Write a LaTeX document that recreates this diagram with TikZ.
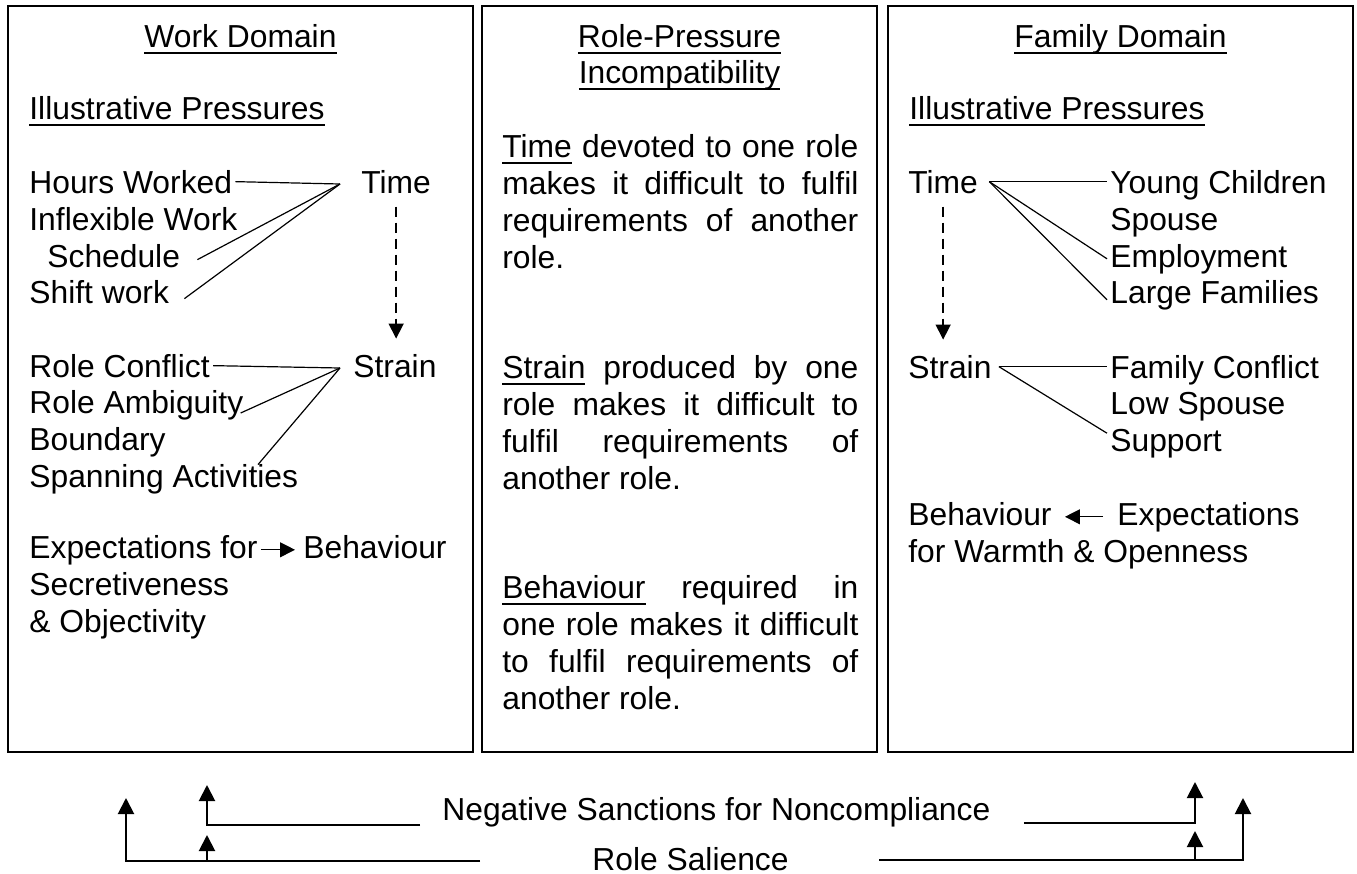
\documentclass[tikz,border=0pt]{standalone}
\usepackage{fontspec}
\setmainfont{Liberation Sans}
\usetikzlibrary{arrows.meta}
\newcommand\lblfont{\fontsize{15.9pt}{18.5pt}\selectfont}
\newcommand\parafont{\lblfont\tolerance=10000\relax\hbadness=10000\relax\hyphenpenalty=10000\relax}
\newsavebox\ulbox
\newcommand\uln[1]{\sbox\ulbox{#1}\rlap{\rule[-3.5pt]{\wd\ulbox}{1pt}}\usebox\ulbox}
\tikzset{
	frame/.style={draw,line width=1pt},
	lbl/.style={anchor=base west,inner sep=1.5pt,font=\lblfont},
	hdr/.style={anchor=base,inner sep=1.5pt,font=\lblfont},
	para/.style={anchor=base west,inner sep=1.5pt,text width=178pt,align=justify,font=\parafont},
	link/.style={line width=0.6pt},
	flow/.style={line width=0.6pt,-{Triangle[length=7.5pt,width=7.5pt]}},
	dflow/.style={line width=0.8pt,dash pattern=on 5pt off 3pt,-{Triangle[length=7.5pt,width=7.5pt]},shorten <=5pt,shorten >=6pt},
	lift/.style={line width=1pt,-{Triangle[length=8pt,width=8pt]}},
}
\begin{document}
\begin{tikzpicture}[x=0.5pt,y=-0.5pt]
\useasboundingbox (0,0) rectangle (1357,874);
% BOXES
\draw[frame] (8,6) rectangle (473,752);
\draw[frame] (482,6) rectangle (877,752);
\draw[frame] (888,6) rectangle (1353,752);
% WORK DOMAIN
\node[hdr] (wd) at (240.5,47) {\uln{Work Domain}};
\node[lbl] (wip) at (26,119) {\uln{Illustrative Pressures}};
\node[lbl] (hw) at (26,193) {Hours Worked};
\node[lbl] (ifw) at (26,230) {Inflexible Work};
\node[lbl] (sch) at (44,267) {Schedule};
\node[lbl] (shw) at (26,303) {Shift work};
\node[lbl] (tw) at (358,193) {Time};
\node[lbl] (rc) at (26,377) {Role Conflict};
\node[lbl] (ra) at (26,413) {Role Ambiguity};
\node[lbl] (bd) at (26,450) {Boundary};
\node[lbl] (sa) at (26,487) {Spanning Activities};
\node[lbl] (stw) at (350,377) {Strain};
\node[lbl] (ef) at (26,558) {Expectations for};
\node[lbl] (bw) at (300,558) {Behaviour};
\node[lbl] (sec) at (26,595) {Secretiveness};
\node[lbl] (obj) at (26,632) {\& Objectivity};
\coordinate (tjn) at (340,184);
\coordinate (sjn) at (340,368);
\draw[link] (hw.east) -- (tjn);
\draw[link] ([xshift=7pt,yshift=-2pt]sch.east) -- (tjn);
\draw[link] ([xshift=6pt,yshift=-3.5pt]shw.east) -- (tjn);
\draw[link] (rc.east) -- (sjn);
\draw[link] ([xshift=-3pt]ra.base east) -- (sjn);
\draw[link] ([xshift=116pt,yshift=-2pt]sa.north west) -- (sjn);
\draw[dflow] (tw.south) -- (tw.south |- stw.north);
\draw[flow,shorten >=2.5pt] (ef.east) -- (ef.east -| bw.west);
% ROLE-PRESSURE INCOMPATIBILITY
\node[hdr] (rp1) at (679.5,47) {\uln{Role-Pressure}};
\node[hdr] (rp2) at (679.5,83) {\uln{Incompatibility}};
\node[para] (pt) at (499,157) {\uln{Time} devoted to one role\linebreak makes it difficult to fulfil\linebreak requirements of another\linebreak role.};
\node[para] (ps) at (499,378) {\uln{Strain} produced by one\linebreak role makes it difficult to\linebreak fulfil requirements of\linebreak another role.};
\node[para] (pb) at (499,598) {\uln{Behaviour} required in\linebreak one role makes it difficult\linebreak to fulfil requirements of\linebreak another role.};
% FAMILY DOMAIN
\node[hdr] (fd) at (1120.5,47) {\uln{Family Domain}};
\node[lbl] (fip) at (906,119) {\uln{Illustrative Pressures}};
\node[lbl] (tf) at (905,193) {Time};
\node[lbl] (yc) at (1107,193) {Young Children};
\node[lbl] (spo) at (1107,230) {Spouse};
\node[lbl] (emp) at (1107,267) {Employment};
\node[lbl] (lfm) at (1107,303) {Large Families};
\node[lbl] (sf) at (905,378) {Strain};
\node[lbl] (fc) at (1107,378) {Family Conflict};
\node[lbl] (lsp) at (1107,414) {Low Spouse};
\node[lbl] (sup) at (1107,451) {Support};
\node[lbl] (bf) at (905,525) {Behaviour};
\node[lbl] (exf) at (1114,525) {Expectations};
\node[lbl] (wo) at (905,562) {for Warmth \& Openness};
\coordinate (tfo) at ([xshift=4pt]tf.east);
\coordinate (sfo) at ([xshift=2pt]sf.east);
\draw[link] (tfo) -- (tfo -| yc.west);
\draw[link] (tfo) -- (emp.west);
\draw[link] (tfo) -- ([yshift=-2.5pt]lfm.west);
\draw[link] (sfo) -- (sfo -| fc.west);
\draw[link] (sfo) -- ([yshift=5pt]sup.west);
\draw[dflow] (tf.south) -- (tf.south |- sf.north);
\draw[flow,shorten <=5.5pt,shorten >=5pt] (exf.west) -- (exf.west -| bf.east);
% SANCTIONS AND SALIENCE
\node[lbl] (ns) at (439,820) {Negative Sanctions for Noncompliance};
\node[lbl] (rs) at (589,870) {Role Salience};
\coordinate (wa1) at (126,798);
\coordinate (wa2) at (207,785);
\coordinate (fa2) at (1195,782);
\coordinate (fa1) at (1243,798);
\coordinate (nsw) at ([shift={(-9.5pt,-2.5pt)}]ns.base west);
\coordinate (nse) at ([shift={(15pt,-1.5pt)}]ns.base east);
\coordinate (rsw) at ([shift={(-54.5pt,4.5pt)}]rs.base west);
\coordinate (rse) at ([shift={(43.5pt,5pt)}]rs.base east);
\draw[lift] (rsw) -| (wa1);
\draw[lift] (rse) -| (fa1);
\draw[lift] (nsw) -| (wa2);
\draw[lift] (nse) -| (fa2);
\draw[lift,shorten >=5pt] (wa2 |- rsw) -- (wa2 |- nsw);
\draw[lift,shorten >=4pt] (fa2 |- rse) -- (fa2 |- nse);
\end{tikzpicture}
\end{document}
